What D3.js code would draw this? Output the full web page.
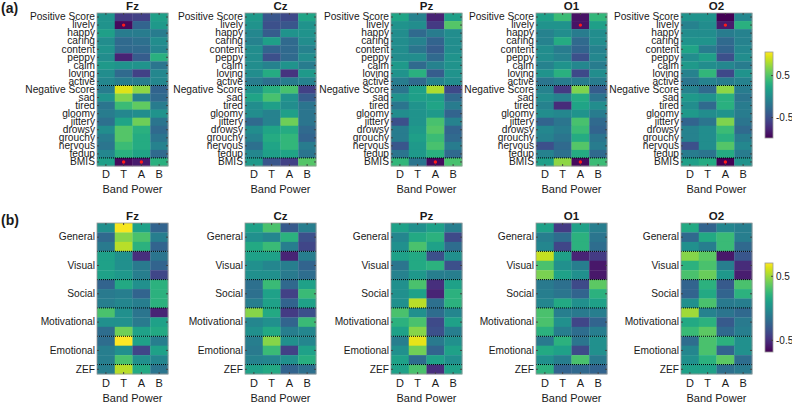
<!DOCTYPE html>
<html>
<head>
<meta charset="utf-8">
<script src="https://cdn.jsdelivr.net/npm/d3@7"></script>
<style>
  body { margin: 0; background: #fff; }
  svg text { font-family: "Liberation Sans", Arial, sans-serif; fill: #1a1a1a; }
</style>
</head>
<body>
<div id="chart"></div>
<script>
var electrodes = ["Fz", "Cz", "Pz", "O1", "O2"];
var bands = ["D", "T", "A", "B"];

// (a) mood rows
var moodRows = ["Positive Score", "lively", "happy", "caring", "content", "peppy", "calm", "loving", "active",
  "Negative Score", "sad", "tired", "gloomy", "jittery", "drowsy", "grouchy", "nervous", "fedup", "BMIS"];
var moodGroupStarts = ["Negative Score", "BMIS"];
var moodDomain = [-1.0, 1.05];

var moodFz = [
  [0.05, -0.65, -0.6, 0.15], [0.05, -0.95, -0.35, 0.1], [0.15, -0.15, -0.15, -0.15], [0.0, -0.3, -0.25, 0.0],
  [0.05, -0.3, -0.3, -0.05], [0.0, -0.8, -0.4, 0.3], [0.1, 0.05, 0.05, -0.2], [0.0, -0.3, -0.6, -0.05],
  [-0.05, -0.15, -0.15, -0.05], [-0.15, 0.95, 0.7, -0.35], [0.05, 0.65, -0.1, -0.3], [-0.2, 0.4, 0.55, -0.15],
  [-0.15, -0.05, 0.0, 0.05], [-0.25, 0.2, 0.6, -0.2], [0.0, 0.5, 0.3, -0.3], [-0.15, 0.5, 0.25, -0.2],
  [-0.2, 0.4, 0.25, -0.1], [-0.05, 0.3, 0.2, -0.3], [0.15, -0.95, -0.85, 0.3]
];
var moodCz = [
  [0.1, -0.45, -0.55, 0.2], [0.05, -0.5, -0.45, 0.05], [-0.05, -0.4, 0.05, 0.05], [-0.1, 0.15, -0.3, 0.0],
  [0.0, -0.35, -0.3, -0.1], [0.0, -0.5, -0.3, 0.0], [0.0, -0.1, 0.05, -0.15], [0.0, 0.25, -0.7, 0.1],
  [-0.15, -0.25, -0.15, -0.1], [0.05, 0.3, 0.45, -0.6], [0.2, 0.45, 0.05, -0.4], [0.0, 0.15, 0.0, -0.2],
  [0.0, -0.1, 0.15, -0.2], [-0.3, -0.1, 0.6, -0.2], [0.0, 0.2, 0.25, -0.3], [-0.1, 0.25, 0.35, -0.35],
  [-0.25, 0.2, 0.35, -0.15], [-0.05, 0.15, 0.2, -0.2], [0.1, -0.45, -0.6, 0.5]
];
var moodPz = [
  [0.2, -0.1, -0.8, 0.15], [0.05, 0.0, -0.65, 0.5], [0.0, -0.3, -0.15, 0.0], [0.0, -0.1, -0.35, 0.0],
  [0.0, -0.2, -0.4, 0.0], [0.0, 0.0, -0.3, 0.05], [0.1, -0.3, -0.1, 0.05], [0.05, 0.3, -0.4, 0.05],
  [-0.15, -0.3, -0.1, 0.0], [-0.2, 0.15, 0.8, -0.55], [0.05, 0.15, 0.15, -0.3], [-0.2, 0.05, 0.2, -0.15],
  [0.0, 0.05, 0.1, -0.35], [-0.5, 0.05, 0.45, -0.1], [-0.15, 0.1, 0.5, -0.35], [-0.15, 0.15, 0.4, -0.3],
  [-0.45, 0.1, 0.45, -0.15], [-0.2, 0.1, 0.3, -0.3], [0.35, -0.2, -0.95, 0.45]
];
var moodO1 = [
  [0.15, 0.4, -0.9, 0.35], [0.05, 0.05, -0.9, 0.15], [-0.1, 0.0, -0.15, 0.0], [-0.1, 0.25, -0.3, 0.0],
  [0.0, -0.15, -0.35, -0.1], [0.0, -0.1, -0.5, -0.05], [-0.1, 0.05, -0.05, -0.15], [0.05, 0.3, -0.55, 0.0],
  [-0.2, -0.15, -0.15, -0.15], [-0.1, -0.65, 0.65, -0.4], [0.0, -0.1, 0.25, -0.2], [-0.1, -0.75, 0.2, 0.0],
  [0.0, -0.05, 0.05, -0.15], [-0.35, -0.2, 0.45, -0.3], [-0.05, -0.15, 0.4, -0.35], [-0.1, -0.2, 0.25, -0.2],
  [-0.5, -0.3, 0.5, -0.15], [-0.1, -0.25, 0.25, -0.3], [0.15, 0.7, -0.95, 0.4]
];
var moodO2 = [
  [0.05, 0.05, -1.0, -0.05], [-0.1, 0.0, -0.85, 0.3], [0.0, 0.0, -0.15, -0.1], [0.05, 0.05, -0.3, -0.1],
  [0.2, -0.15, -0.35, -0.05], [0.0, 0.15, -0.5, 0.0], [0.1, 0.0, -0.05, -0.15], [-0.1, 0.35, -0.55, 0.05],
  [-0.2, -0.1, -0.15, -0.1], [-0.1, -0.3, 0.7, -0.15], [0.1, 0.05, 0.3, -0.2], [0.0, -0.3, 0.3, -0.15],
  [0.1, 0.0, 0.05, -0.15], [-0.35, -0.2, 0.65, -0.2], [-0.1, 0.0, 0.4, -0.3], [-0.1, 0.0, 0.3, -0.15],
  [-0.5, 0.0, 0.5, -0.05], [-0.15, -0.2, 0.25, -0.15], [0.15, 0.25, -1.0, 0.05]
];
var moodSig = [
  ["Fz", "lively", "T"], ["Fz", "BMIS", "T"], ["Fz", "BMIS", "A"], ["Pz", "BMIS", "A"],
  ["O1", "lively", "A"], ["O1", "BMIS", "A"], ["O2", "lively", "A"], ["O2", "BMIS", "A"]
];

// (b) ZEF rows
var zefGroups = ["General", "Visual", "Social", "Motivational", "Emotional", "ZEF"];
var zefGroupSizes = [3, 3, 3, 3, 3, 1];
var zefDomain = [-0.69, 0.70];

var zefFz = [
  [0.0, 0.68, 0.1, -0.25], [-0.22, 0.45, 0.3, -0.1], [-0.12, 0.55, 0.2, -0.25],
  [0.1, 0.0, -0.5, -0.15], [0.1, 0.0, -0.12, -0.25], [0.1, 0.05, -0.1, -0.4],
  [-0.25, 0.15, 0.0, 0.2], [-0.12, -0.1, -0.25, 0.2], [-0.1, -0.05, -0.1, 0.2],
  [0.3, 0.0, -0.15, -0.55], [0.0, 0.0, -0.12, 0.1], [-0.2, 0.4, 0.1, 0.15],
  [-0.2, 0.72, 0.1, -0.1], [-0.1, 0.0, -0.4, 0.1], [-0.1, 0.3, 0.0, -0.05],
  [-0.1, 0.55, 0.15, -0.15]
];
var zefCz = [
  [0.1, 0.3, -0.3, -0.1], [0.0, -0.05, 0.2, -0.35], [0.15, 0.25, -0.1, -0.4],
  [0.1, 0.1, -0.55, -0.1], [0.0, -0.05, -0.1, -0.25], [0.0, 0.0, -0.12, -0.2],
  [-0.18, 0.25, -0.22, 0.1], [-0.18, 0.1, -0.42, 0.25], [-0.1, 0.1, -0.25, 0.1],
  [0.45, 0.15, -0.45, -0.35], [-0.05, 0.0, -0.25, 0.25], [0.0, 0.15, -0.1, -0.05],
  [-0.1, 0.45, 0.0, -0.05], [-0.12, 0.25, -0.42, 0.1], [-0.08, -0.05, 0.0, 0.18],
  [0.1, 0.15, -0.25, -0.18]
];
var zefPz = [
  [0.1, 0.0, 0.1, -0.1], [-0.05, 0.15, 0.2, -0.38], [0.0, 0.3, 0.1, -0.2],
  [0.1, 0.15, -0.35, 0.0], [-0.15, 0.15, 0.2, -0.35], [-0.08, 0.05, -0.1, -0.1],
  [0.0, 0.3, -0.5, 0.1], [0.0, 0.1, -0.55, 0.2], [0.0, 0.55, -0.18, 0.2],
  [0.3, 0.0, -0.2, -0.05], [0.2, 0.3, -0.38, 0.1], [0.1, 0.45, -0.35, -0.1],
  [-0.1, 0.65, -0.12, 0.0], [0.0, 0.4, -0.25, 0.1], [0.1, -0.2, 0.1, 0.0],
  [0.1, 0.3, -0.5, 0.1]
];
var zefO1 = [
  [0.1, -0.45, 0.1, -0.1], [-0.1, -0.2, 0.2, -0.15], [-0.05, -0.4, 0.2, -0.2],
  [0.58, 0.1, -0.55, -0.45], [0.3, 0.0, -0.1, -0.6], [0.42, 0.1, 0.0, -0.6],
  [-0.12, -0.18, -0.38, 0.35], [-0.1, -0.15, -0.25, 0.2], [-0.05, 0.15, 0.0, 0.1],
  [0.3, -0.1, -0.12, -0.1], [0.3, 0.0, -0.4, -0.25], [0.2, -0.1, -0.2, -0.1],
  [-0.12, 0.2, -0.15, 0.0], [0.15, 0.1, -0.38, 0.0], [0.0, -0.1, 0.3, -0.12],
  [0.2, -0.25, -0.22, -0.25]
];
var zefO2 = [
  [0.15, -0.25, -0.05, -0.1], [-0.22, 0.15, 0.25, -0.1], [0.0, -0.1, 0.25, -0.22],
  [0.45, 0.35, -0.6, -0.32], [0.2, 0.3, -0.1, -0.52], [0.3, 0.38, 0.05, -0.58],
  [-0.25, 0.2, -0.3, 0.3], [-0.25, 0.15, -0.25, 0.2], [0.0, 0.3, -0.12, -0.1],
  [0.5, -0.08, -0.15, -0.22], [0.15, 0.2, -0.3, -0.12], [0.25, 0.35, -0.22, -0.1],
  [-0.2, 0.3, 0.2, 0.0], [-0.05, 0.3, -0.25, 0.0], [0.0, 0.2, 0.35, -0.2],
  [0.1, 0.1, -0.18, -0.12]
];

var colorTicks = [-0.5, 0.5];

// layout
var width = 792, height = 403;
var plotLefts = [97, 245, 391, 536, 681],
  plotWidth = 71;

var svg = d3.select("#chart").append("svg")
  .attr("width", width)
  .attr("height", height);

// build zef row ids, label only middle row of each group
var zefRows = [], zefLabels = {}, zefGroupStarts = [];
zefGroups.forEach(function(g, gi) {
  for (var k = 0; k < zefGroupSizes[gi]; k++) {
    var id = g + "_" + k;
    zefRows.push(id);
    if (k === Math.floor((zefGroupSizes[gi] - 1) / 2)) zefLabels[id] = g;
    if (k === 0 && gi > 0) zefGroupStarts.push(id);
  }
});

function drawPanel(cfg) {
  var x = d3.scaleBand().domain(bands).range([0, plotWidth]);
  var y = d3.scaleBand().domain(cfg.rows).range([cfg.top, cfg.top + cfg.height]);
  var color = d3.scaleSequential(d3.interpolateViridis).domain(cfg.domain);

  electrodes.forEach(function(e, ei) {
    var g = svg.append("g").attr("transform", "translate(" + plotLefts[ei] + ",0)");
    var cells = [];
    cfg.data[ei].forEach(function(row, ri) {
      row.forEach(function(v, bi) {
        cells.push({ row: cfg.rows[ri], band: bands[bi], value: v });
      });
    });

    g.selectAll("rect.cell")
      .data(cells)
      .enter().append("rect")
      .attr("class", "cell")
      .attr("x", function(d) { return x(d.band); })
      .attr("y", function(d) { return y(d.row); })
      .attr("width", x.bandwidth() + 0.3)
      .attr("height", y.bandwidth() + 0.3)
      .attr("fill", function(d) { return color(d.value); });

    // group dividers
    g.selectAll("line.sep")
      .data(cfg.groupStarts)
      .enter().append("line")
      .attr("x1", 0).attr("x2", plotWidth)
      .attr("y1", function(d) { return y(d); })
      .attr("y2", function(d) { return y(d); })
      .attr("stroke", "#000")
      .attr("stroke-width", 1)
      .attr("stroke-dasharray", "1,1");

    // significance
    var sig = (cfg.sig || []).filter(function(s) { return s[0] === e; });
    g.selectAll("circle.sig")
      .data(sig)
      .enter().append("circle")
      .attr("cx", function(d) { return x(d[2]) + x.bandwidth() / 2; })
      .attr("cy", function(d) { return y(d[1]) + y.bandwidth() / 2; })
      .attr("r", 1.7)
      .attr("fill", "#ff1a1a");

    g.append("rect")
      .attr("x", 0).attr("y", cfg.top)
      .attr("width", plotWidth).attr("height", cfg.height)
      .attr("fill", "none")
      .attr("stroke", "#9a9a9a")
      .attr("stroke-width", 0.8);

    var tickRows = cfg.rows.filter(function(r) { return cfg.labelOf(r) !== null; });

    var yl = g.append("g")
      .call(d3.axisLeft(y).tickValues(tickRows).tickSizeInner(-2).tickSizeOuter(0).tickPadding(2)
        .tickFormat(cfg.labelOf));
    yl.select(".domain").remove();
    yl.selectAll("line").attr("stroke", "#444");
    yl.selectAll("text").attr("font-size", "10.2px").attr("fill", "#1a1a1a");

    var yr = g.append("g").attr("transform", "translate(" + plotWidth + ",0)")
      .call(d3.axisRight(y).tickValues(tickRows).tickSizeInner(-2).tickSizeOuter(0).tickFormat(""));
    yr.select(".domain").remove();
    yr.selectAll("line").attr("stroke", "#444");

    var xb = g.append("g").attr("transform", "translate(0," + (cfg.top + cfg.height) + ")")
      .call(d3.axisBottom(x).tickSizeInner(-2).tickSizeOuter(0).tickPadding(cfg.xPad));
    xb.select(".domain").remove();
    xb.selectAll("line").attr("stroke", "#444");
    xb.selectAll("text").attr("font-size", "11px").attr("fill", "#1a1a1a");

    var xt = g.append("g").attr("transform", "translate(0," + cfg.top + ")")
      .call(d3.axisTop(x).tickSizeInner(-2).tickSizeOuter(0).tickFormat(""));
    xt.select(".domain").remove();
    xt.selectAll("line").attr("stroke", "#444");

    g.append("text")
      .attr("x", plotWidth / 2).attr("y", cfg.titleY)
      .attr("text-anchor", "middle")
      .attr("font-size", "11.5px").attr("font-weight", "bold")
      .text(e);

    g.append("text")
      .attr("x", plotWidth / 2).attr("y", cfg.xLabelY)
      .attr("text-anchor", "middle")
      .attr("font-size", "11px")
      .text("Band Power");
  });

  // colorbar
  var cbX = 765, cbW = 8;
  var cbY = d3.scaleLinear().domain(cfg.domain).range([cfg.cbTop + cfg.cbHeight, cfg.cbTop]);
  var gradId = "grad" + cfg.id;
  var grad = svg.append("defs").append("linearGradient")
    .attr("id", gradId).attr("x1", 0).attr("y1", 1).attr("x2", 0).attr("y2", 0);
  d3.range(0, 1.001, 0.05).forEach(function(t) {
    grad.append("stop").attr("offset", t).attr("stop-color", d3.interpolateViridis(t));
  });
  svg.append("rect")
    .attr("x", cbX).attr("y", cfg.cbTop)
    .attr("width", cbW).attr("height", cfg.cbHeight)
    .attr("fill", "url(#" + gradId + ")")
    .attr("stroke", "#9a9a9a").attr("stroke-width", 0.8);
  var cb = svg.append("g").attr("transform", "translate(" + (cbX + cbW) + ",0)")
    .call(d3.axisRight(cbY).tickValues(colorTicks).tickSizeInner(-2).tickSizeOuter(0).tickPadding(3)
      .tickFormat(d3.format(".1f")));
  cb.select(".domain").remove();
  cb.selectAll("line").attr("stroke", "#444");
  cb.selectAll("text").attr("font-size", "10px").attr("fill", "#1a1a1a")
    .text(function(d) { return d < 0 ? "-" + Math.abs(d) : d; });

  svg.append("text")
    .attr("x", 1).attr("y", cfg.panelLabelY)
    .attr("font-size", "14px").attr("font-weight", "bold")
    .text(cfg.panelLabel);
}

drawPanel({
  id: "a",
  rows: moodRows,
  data: [moodFz, moodCz, moodPz, moodO1, moodO2],
  domain: moodDomain,
  groupStarts: moodGroupStarts,
  sig: moodSig,
  labelOf: function(r) { return r; },
  top: 13, height: 153,
  titleY: 10, xPad: 4, xLabelY: 193,
  cbTop: 52, cbHeight: 86,
  panelLabel: "(a)", panelLabelY: 13
});

drawPanel({
  id: "b",
  rows: zefRows,
  data: [zefFz, zefCz, zefPz, zefO1, zefO2],
  domain: zefDomain,
  groupStarts: zefGroupStarts,
  sig: [],
  labelOf: function(r) { return zefLabels[r] === undefined ? null : zefLabels[r]; },
  top: 223, height: 151,
  titleY: 220, xPad: 5, xLabelY: 402,
  cbTop: 263, cbHeight: 89,
  panelLabel: "(b)", panelLabelY: 225
});
</script>
</body>
</html>
